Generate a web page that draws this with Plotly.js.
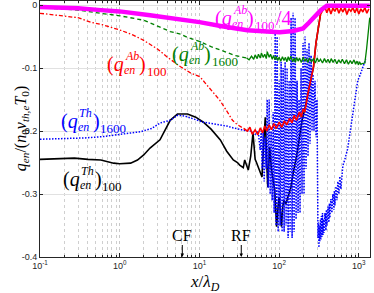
<!DOCTYPE html>
<html><head><meta charset="utf-8">
<script src="https://cdn.plot.ly/plotly-3.0.1.min.js"></script>
<style>html,body{margin:0;padding:0;background:#fff}#chart{width:374px;height:293px}</style>
</head><body><div id="chart"></div>
<script>
// ---- data ----
var thX100 = [0.1,0.15,0.2,0.27,0.4,0.58,0.84,1.0,1.37,1.67,2.0,2.4,3.2,4.3,5.3,7.1,9,11.2,14,18.3,22,24.5,26.6,30,32,35.5,37,41,44,47,50,52,56,61,64,67,70,72,76,80,88,93,97,100,104,107,111,115,122,128,140,150,165,180,194,210,230,250,270,290,310,330];
var thY100 = [-0.245,-0.244,-0.244,-0.243,-0.245,-0.246,-0.251,-0.252,-0.251,-0.246,-0.238,-0.227,-0.214,-0.183,-0.173,-0.173,-0.178,-0.186,-0.197,-0.214,-0.232,-0.240,-0.246,-0.250,-0.254,-0.258,-0.246,-0.262,-0.240,-0.203,-0.245,-0.250,-0.262,-0.273,-0.220,-0.178,-0.250,-0.289,-0.225,-0.260,-0.294,-0.352,-0.320,-0.305,-0.330,-0.352,-0.320,-0.310,-0.315,-0.305,-0.290,-0.267,-0.241,-0.210,-0.183,-0.165,-0.140,-0.115,-0.098,-0.060,-0.035,-0.015];

var thX1600 = [0.1,0.2,0.355,0.6,0.94,1.3,1.83,2.5,3.25,4.3,5.3,6.5,8,11.2,14,18.3,22,26.6,33,40,45,50.1,54.6,57.9,59.6,61.3,63.1,64.9,66.8,68.8,70.8,72.9,75.0,77.2,79.4,81.8,84.1,86.6,89.1,91.7,94.4,97.2,100,102.9,105.9,109.0,112.2,115.5,118.9,122.3,125.9,129.6,133.4,137.3,141.3,145.5,149.6,154.0,158.5,163.1,167.9,172.8,177.8,183.0,188.4,193.9,199.5,205.4,211.3,217.5,223.9,230.4,237.1,244.1,251.2,258.5,266.1,273.8,281.8,290.1,298.5,307.3,312,316,321,325,330,334,339,344.7,350,355,360,366,376,386.6,392,398,410,421,427,433.5,446,459,472,486.3,493,501,516,531,545.5,562,578,595,612,630,668,686,725,770,815,864,915,969,1030,1087,1150,1219,1290,1367];
var thY1600 = [-0.213,-0.212,-0.211,-0.209,-0.206,-0.204,-0.201,-0.196,-0.187,-0.183,-0.175,-0.176,-0.180,-0.186,-0.188,-0.190,-0.192,-0.195,-0.198,-0.200,-0.200,-0.205,-0.200,-0.230,-0.200,-0.260,-0.200,-0.280,-0.210,-0.260,-0.150,-0.290,-0.150,-0.300,-0.200,-0.310,-0.170,-0.330,-0.045,-0.350,-0.050,-0.360,-0.120,-0.350,-0.090,-0.360,-0.100,-0.360,-0.090,-0.350,-0.100,-0.370,-0.120,-0.360,-0.020,-0.370,-0.012,-0.360,-0.020,-0.340,-0.120,-0.330,-0.150,-0.330,-0.100,-0.300,-0.060,-0.300,-0.050,-0.260,-0.070,-0.240,-0.060,-0.220,-0.080,-0.200,-0.110,-0.200,-0.120,-0.210,-0.150,-0.370,-0.345,-0.385,-0.350,-0.375,-0.340,-0.372,-0.335,-0.368,-0.330,-0.365,-0.340,-0.362,-0.330,-0.358,-0.325,-0.350,-0.320,-0.345,-0.315,-0.338,-0.308,-0.330,-0.300,-0.325,-0.295,-0.318,-0.288,-0.310,-0.280,-0.300,-0.272,-0.292,-0.265,-0.255,-0.245,-0.238,-0.228,-0.205,-0.185,-0.162,-0.140,-0.120,-0.112,-0.104,-0.096,-0.086];

var abX100 = [0.1,0.2,0.3,0.43,0.6,1.03,1.5,2,3,3.9,5,5.8,7.8,10.2,13,18,22,26,30,36,40,43,46,50,54,58,62,66,70,75,80,86,92,100,108,116,125,135,145,155,165,180,190,200,210,230,250,270,290,310,330,354,375,397,421,446,472,500,530,562,595,631,668,708,750,795,842,892,945,1000,1060,1123,1190,1260,1335];
var abY100 = [-0.013,-0.017,-0.020,-0.027,-0.031,-0.040,-0.048,-0.056,-0.070,-0.082,-0.092,-0.098,-0.108,-0.114,-0.130,-0.151,-0.168,-0.183,-0.190,-0.196,-0.200,-0.194,-0.205,-0.198,-0.206,-0.195,-0.203,-0.192,-0.200,-0.190,-0.198,-0.188,-0.196,-0.186,-0.194,-0.184,-0.190,-0.180,-0.187,-0.175,-0.183,-0.170,-0.178,-0.165,-0.170,-0.140,-0.115,-0.098,-0.060,-0.035,-0.015,-0.008,-0.003,-0.012,-0.004,-0.014,-0.005,-0.010,-0.003,-0.013,-0.005,-0.011,-0.004,-0.015,-0.006,-0.010,-0.004,-0.012,-0.005,-0.014,-0.006,-0.011,-0.004,-0.013,-0.006];

var abX1600 = [0.1,0.2,0.3,0.58,1,2,3,4.3,5.8,7,10.2,14,20,28,39,42,45,48,50,53,55,58,60,63,66,69,71,75,78,82,85,89,92,96,100,105,110,115,120,125,130,135,140,148,155,160,166,173,180,190,200,210,220,230,240,255,270,285,300,315,330,350,370,390,410,430,450,475,500,530,560,590,620,660,700,740,780,820,870,910,950,990,1020,1060,1100,1190,1250,1320,1370];
var abY1600 = [-0.004,-0.006,-0.008,-0.013,-0.017,-0.024,-0.033,-0.042,-0.046,-0.051,-0.058,-0.066,-0.073,-0.080,-0.084,-0.087,-0.081,-0.086,-0.079,-0.085,-0.078,-0.084,-0.076,-0.083,-0.078,-0.085,-0.074,-0.083,-0.078,-0.086,-0.080,-0.087,-0.081,-0.088,-0.083,-0.089,-0.082,-0.088,-0.083,-0.090,-0.082,-0.088,-0.081,-0.090,-0.084,-0.091,-0.083,-0.089,-0.084,-0.091,-0.083,-0.089,-0.085,-0.091,-0.084,-0.090,-0.085,-0.092,-0.084,-0.090,-0.086,-0.092,-0.085,-0.091,-0.086,-0.092,-0.085,-0.091,-0.086,-0.093,-0.087,-0.092,-0.086,-0.093,-0.087,-0.094,-0.088,-0.093,-0.087,-0.094,-0.089,-0.095,-0.090,-0.094,-0.093,-0.092,-0.070,-0.040,-0.020];

var ab4X = [0.1,0.3,0.58,1,2.4,5,7.8,10,20,40,70,102,150,200,236,280,333,396,600,1000,1370];
var ab4Y = [-0.003,-0.005,-0.008,-0.010,-0.016,-0.021,-0.024,-0.027,-0.034,-0.040,-0.042,-0.043,-0.041,-0.037,-0.028,-0.018,-0.008,-0.001,-0.001,-0.001,-0.001];

var markerX = [6.1, 33.5];
var markerText = ['CF', 'RF'];
var yTickVals = [0, -0.1, -0.2, -0.3, -0.4];
var yTickText = ['0', '-0.1', '-0.2', '-0.3', '-0.4'];
var xTickVals = [0.1, 1, 10, 100, 1000];
var xTickText = ['10<sup>-1</sup>', '10<sup>0</sup>', '10<sup>1</sup>', '10<sup>2</sup>', '10<sup>3</sup>'];

// ---- build minor ticks ----
var xMinor = [];
xTickVals.forEach(function (d) {
  for (var m = 2; m <= 9; m++) { var v = m * d; if (v < 1400) xMinor.push(v); }
});

var gSplit = abX1600.indexOf(39);
var rSplit = abX100.indexOf(36);
var serif = 'Liberation Serif, Times New Roman, serif';

var traces = [
  {x: thX100, y: thY100, mode: 'lines', line: {color: '#000000', width: 1.6}},
  {x: thX1600, y: thY1600, mode: 'lines', line: {color: '#0000ff', width: 1.5, dash: '1.5px,1.5px'}},
  {x: abX100.slice(0, rSplit + 1), y: abY100.slice(0, rSplit + 1), mode: 'lines', line: {color: '#ff0000', width: 1.3, dash: '4px,2px,1.5px,2px'}},
  {x: abX100.slice(rSplit), y: abY100.slice(rSplit), mode: 'lines', line: {color: '#ff0000', width: 1.6}},
  {x: abX1600.slice(0, gSplit + 1), y: abY1600.slice(0, gSplit + 1), mode: 'lines', line: {color: '#008000', width: 1.3, dash: '4px,3px'}},
  {x: abX1600.slice(gSplit), y: abY1600.slice(gSplit), mode: 'lines', line: {color: '#008000', width: 1.3}},
  {x: ab4X, y: ab4Y, mode: 'lines', line: {color: '#ff00ff', width: 4.5}}
];

// ---- stacked sup/sub labels ----
var ctx = document.createElement('canvas').getContext('2d');
function tw(t, size, italic) { ctx.font = (italic ? 'italic ' : '') + size + 'px "Liberation Serif"'; return ctx.measureText(t).width; }
function px2x(p) { return (p - 40) / 330; }
function px2y(p) { return (257 - p) / 256; }
var annotations = [];
function add(text, xpx, ypx, size, color) {
  annotations.push({xref: 'paper', yref: 'paper', x: px2x(xpx), y: px2y(ypx), xanchor: 'left', yanchor: 'middle',
    text: text, showarrow: false, borderpad: 0, font: {family: serif, size: size, color: color}});
}
function stacked(x0, ym, sup, sub, tail, extra, color) {
  var big = 20, small = 12;
  add('(<i>q</i>', x0, ym, big, color);
  var x1 = x0 + tw('(', big, false) + tw('q', big, true) + 1;
  add('<i>' + sup + '</i>', x1, ym - 8, small, color);
  add('<i>' + sub + '</i>', x1 - 1, ym + 6, small, color);
  var x2 = x1 + Math.max(tw(sup, small, true), tw(sub, small, true)) + 1.5;
  add(')', x2, ym, big, color);
  var x3 = x2 + tw(')', big, false) + 1;
  add(tail, x3, ym + 7, 13, color);
  if (extra) add(extra, x3 + tw(tail, 13, false) + 1, ym, big, color);
}
stacked(60, 121, 'Th', 'en', '1600', '', '#0000ff');
stacked(62, 179, 'Th', 'en', '100', '', '#000000');
stacked(106, 64, 'Ab', 'en', '100', '', '#ff0000');
stacked(171, 54, 'Ab', 'en', '1600', '', '#008000');
stacked(214, 18, 'Ab', 'en', '100', '/4', '#ff00ff');

annotations.push({xref: 'paper', yref: 'paper', x: -0.092, y: 0.5, textangle: -90, showarrow: false,
  text: '<i>q</i><sub><i>en</i></sub>/(<i>n</i><sub>0</sub><i>v</i><sub><i>th,e</i></sub><i>T</i><sub>0</sub>)',
  font: {family: serif, size: 16, color: '#000'}});
annotations.push({xref: 'paper', yref: 'paper', x: 0.5, y: -0.1, yanchor: 'middle', showarrow: false,
  text: '<i>x</i>/<i>λ</i><sub><i>D</i></sub>', font: {family: serif, size: 17, color: '#000'}});
markerX.forEach(function (v, i) {
  annotations.push({x: Math.log10(v), y: -0.4, xref: 'x', yref: 'y', text: markerText[i],
    showarrow: true, arrowhead: 2, arrowsize: 0.7, arrowwidth: 1, arrowcolor: '#000',
    ax: 0, ay: -22, font: {family: serif, size: 16, color: '#000'}});
});

var tickFont = {family: 'Liberation Sans, Arial, sans-serif', size: 9, color: '#262626'};
var layout = {
  width: 374, height: 293,
  margin: {l: 40, r: 4, t: 1, b: 36},
  paper_bgcolor: '#fff', plot_bgcolor: '#fff',
  showlegend: false,
  xaxis: {type: 'log', range: [-1, 3.14], tickmode: 'array', tickvals: xTickVals, ticktext: xTickText,
    ticks: 'inside', ticklen: 4, tickcolor: '#262626', showline: true, linecolor: '#262626', linewidth: 1,
    mirror: 'ticks', showgrid: true, gridcolor: '#c8c8c8', griddash: 'dot', gridwidth: 1,
    minor: {tickmode: 'array', tickvals: xMinor, ticks: 'inside', ticklen: 2, tickcolor: '#262626',
      showgrid: true, gridcolor: '#cfcfcf', griddash: 'dot', gridwidth: 1},
    zeroline: false, tickfont: tickFont},
  yaxis: {range: [-0.4, 0.0065], tickmode: 'array', tickvals: yTickVals, ticktext: yTickText,
    ticks: 'inside', ticklen: 3, tickcolor: '#262626', showline: true, linecolor: '#262626', linewidth: 1,
    mirror: 'ticks', showgrid: true, gridcolor: '#e1e1e1', gridwidth: 1, zeroline: false, tickfont: tickFont},
  annotations: annotations
};

Plotly.newPlot('chart', traces, layout, {displayModeBar: false, staticPlot: true});
</script></body></html>
